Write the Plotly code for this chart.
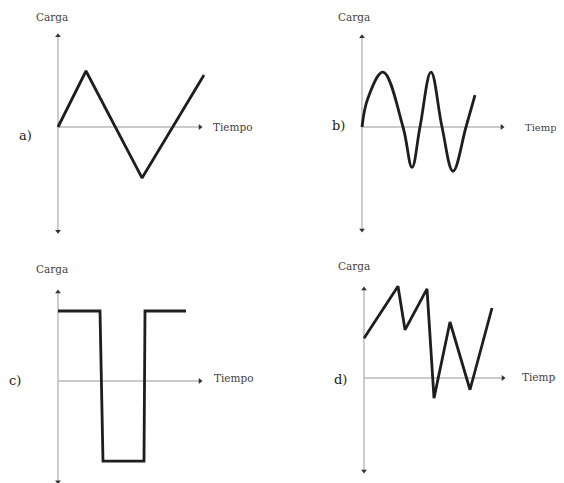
import plotly.graph_objects as go

# ---- data (time units, charge units) ----
a_t = [0, 1.4, 4.2, 7.3]
a_q = [0, 1.0, -0.91, 0.93]

b_t = [0, 0.3, 1.05, 2.05, 2.5, 2.9, 3.45, 4.0, 4.55, 5.2, 5.65]
b_q = [0, 0.52, 0.98, 0, -0.72, 0, 0.98, 0, -0.79, 0, 0.57]

c_t = [0, 2.1, 2.25, 4.3, 4.35, 6.4]
c_q = [1.25, 1.25, -1.43, -1.43, 1.25, 1.25]

d_t = [0, 1.7, 2.05, 3.15, 3.5, 4.3, 5.3, 6.4]
d_q = [0.71, 1.64, 0.86, 1.59, -0.36, 1.0, -0.21, 1.25]

# axis extents per panel: time end, charge top, charge bottom
axis_t_end = [7.1, 7.0, 7.1, 6.95]
axis_q_top = [1.63, 1.61, 1.59, 1.59]
axis_q_bot = [-1.86, -1.84, -1.80, -1.66]

panel_letters = ["a)", "b)", "c)", "d)"]
x_label = "Tiempo"
y_label = "Carga"

# ---- layout geometry (reference pixel positions) ----
PAGE_W, PAGE_H = 564, 483
OFF = 8  # default page margin of the html body
W, H = PAGE_W - OFF, PAGE_H - OFF
XS, YS = 20.0, 56.0  # px per unit
origins = [(58, 127), (362, 127), (58, 381), (364, 378)]
line_shapes = ["linear", "spline", "linear", "linear"]
series = [(a_t, a_q), (b_t, b_q), (c_t, c_q), (d_t, d_q)]

carga_pos = [(52, 17), (354, 17), (52, 269), (354, 266)]
tiempo_pos = [(211, 127), (523, 127), (212, 378), (520, 377)]
tiempo_size = [10.5, 10, 10.5, 10.5]
letter_pos = [(25, 135), (338, 125), (15, 380), (340, 379)]

AX_COL = "#b8b8b8"
LINE_COL = "#1e1e1e"
HEAD_COL = "#333333"
FONT = "DejaVu Serif"


def px(x):
    return (x - OFF) / W


def py(y):
    return 1 - (y - OFF) / H


fig = go.Figure()
layout = dict(width=W, height=H, margin=dict(l=0, r=0, t=0, b=0),
              paper_bgcolor="white", plot_bgcolor="white", showlegend=False)
shapes = []
annotations = []

for i, ((ox, oy), (t, q)) in enumerate(zip(origins, series)):
    n = "" if i == 0 else str(i + 1)
    xa, ya = "x" + n, "y" + n
    oxf, oyf = ox - OFF, oy - OFF
    xr = [(0 - oxf) / XS, (W - oxf) / XS]
    yr = [(oyf - H) / YS, (oyf - 0) / YS]
    layout["xaxis" + n] = dict(range=xr, domain=[0, 1], visible=False, fixedrange=True,
                               anchor=ya, **({} if i == 0 else {"overlaying": "x"}))
    layout["yaxis" + n] = dict(range=yr, domain=[0, 1], visible=False, fixedrange=True,
                               anchor=xa, **({} if i == 0 else {"overlaying": "y"}))
    # axis lines
    shapes.append(dict(type="line", xref=xa, yref=ya, x0=0, x1=axis_t_end[i], y0=0, y1=0,
                       line=dict(color=AX_COL, width=1.4), layer="below"))
    shapes.append(dict(type="line", xref=xa, yref=ya, x0=0, x1=0,
                       y0=axis_q_bot[i], y1=axis_q_top[i],
                       line=dict(color=AX_COL, width=1.4), layer="below"))
    # arrowheads
    fig.add_trace(go.Scatter(x=[axis_t_end[i], 0, 0], y=[0, axis_q_top[i], axis_q_bot[i]],
                             mode="markers", xaxis=xa, yaxis=ya, hoverinfo="skip",
                             marker=dict(symbol=["triangle-right", "triangle-up", "triangle-down"],
                                         size=5, color=HEAD_COL, line=dict(width=0))))
    # signal
    fig.add_trace(go.Scatter(x=t, y=q, mode="lines", xaxis=xa, yaxis=ya, hoverinfo="skip",
                             line=dict(color=LINE_COL, width=2.8, shape=line_shapes[i],
                                       smoothing=1.1)))
    # texts
    cx, cy = carga_pos[i]
    annotations.append(dict(text=y_label, xref="paper", yref="paper", x=px(cx), y=py(cy),
                            xanchor="center", yanchor="middle", showarrow=False,
                            font=dict(family=FONT, size=10.5, color="#444444")))
    tx, ty = tiempo_pos[i]
    annotations.append(dict(text=x_label, xref="paper", yref="paper", x=px(tx), y=py(ty),
                            xanchor="left", yanchor="middle", showarrow=False,
                            font=dict(family=FONT, size=tiempo_size[i], color="#444444")))
    lx, ly = letter_pos[i]
    annotations.append(dict(text=panel_letters[i], xref="paper", yref="paper", x=px(lx),
                            y=py(ly), xanchor="center", yanchor="middle", showarrow=False,
                            font=dict(family=FONT, size=13, color="#222222")))

layout["shapes"] = shapes
layout["annotations"] = annotations
fig.update_layout(**layout)
fig.write_html("out.html")
